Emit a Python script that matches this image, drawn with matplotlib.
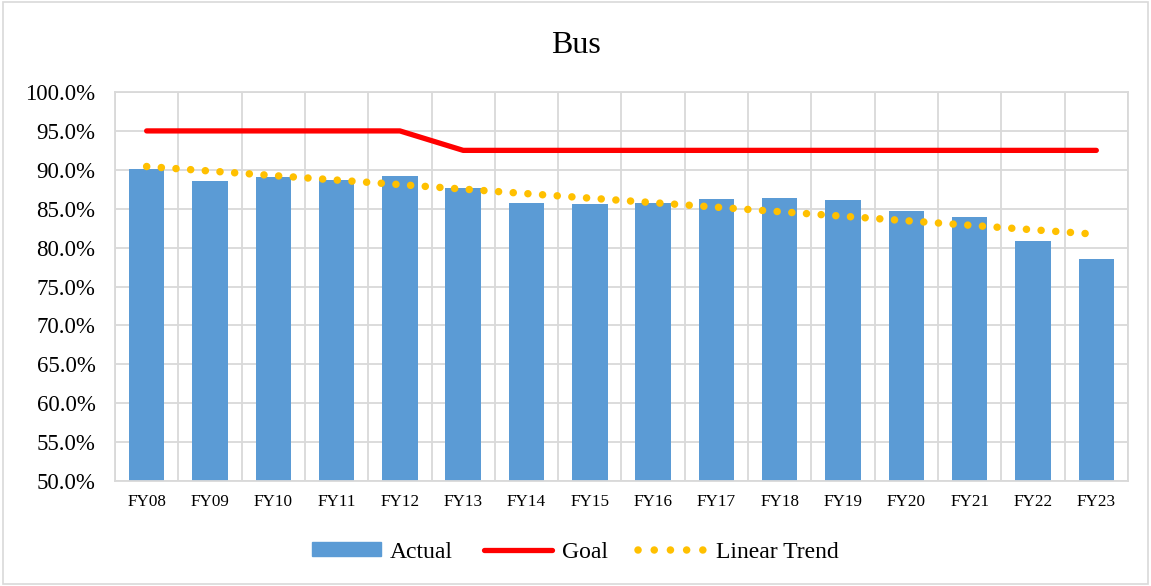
import matplotlib
matplotlib.use('Agg')
import matplotlib.pyplot as plt
import numpy as np
from matplotlib.patches import Rectangle
from matplotlib.lines import Line2D

plt.rcParams['font.family'] = ['Liberation Serif', 'DejaVu Serif']

years = ['FY08', 'FY09', 'FY10', 'FY11', 'FY12', 'FY13', 'FY14', 'FY15',
         'FY16', 'FY17', 'FY18', 'FY19', 'FY20', 'FY21', 'FY22', 'FY23']
actual = [90.1, 88.6, 89.1, 88.7, 89.2, 87.6, 85.8, 85.6,
          85.8, 86.3, 86.35, 86.1, 84.7, 83.9, 80.8, 78.5]
goal = [95.0, 95.0, 95.0, 95.0, 95.0, 92.5, 92.5, 92.5,
        92.5, 92.5, 92.5, 92.5, 92.5, 92.5, 92.5, 92.5]

x = np.arange(len(years))
# linear trend line fitted to the actual values (as the spreadsheet does)
coef = np.polyfit(x, actual, 1)
trend = np.polyval(coef, x)

fig = plt.figure(figsize=(11.51, 5.86), dpi=100)
ax = fig.add_axes([0.0999, 0.179, 0.8801, 0.664])

ax.bar(x, actual, width=0.56, color='#5B9BD5', zorder=2)
ax.plot(x, goal, color='#FF0000', lw=3.8, solid_capstyle='round', zorder=3)
ax.plot(x, trend, color='#FFC000', lw=5.4, linestyle=(0, (0.01, 1.95)),
        dash_capstyle='round', zorder=4)

ax.set_xlim(-0.5, len(years) - 0.5)
ax.set_ylim(50, 100)
ax.set_yticks(np.arange(50, 100.1, 5))
ax.set_yticklabels(['%.1f%%' % v for v in np.arange(50, 100.1, 5)], fontsize=16.5)
ax.set_xticks(x)
ax.set_xticklabels(years, fontsize=12.3)
ax.set_xticks(np.arange(-0.5, len(years)), minor=True)
ax.tick_params(axis='both', which='both', length=0)
ax.tick_params(axis='y', pad=14)
ax.tick_params(axis='x', pad=9)
ax.grid(True, axis='y', color='#D9D9D9', lw=1.3, zorder=0)
ax.grid(True, axis='x', which='minor', color='#D9D9D9', lw=1.3, zorder=0)
for s in ax.spines.values():
    s.set_color('#D9D9D9')
    s.set_linewidth(1.3)

fig.text(0.5, 0.923, 'Bus', ha='center', va='center', fontsize=23)

handles = [Rectangle((0, 0), 1, 1, color='#5B9BD5'),
           Line2D([0], [0], color='#FF0000', lw=3.8, solid_capstyle='round'),
           Line2D([0], [0], color='#FFC000', lw=5.4, linestyle=(0, (0.01, 2.15)),
                  dash_capstyle='round')]
fig.legend(handles, ['Actual', 'Goal', 'Linear Trend'], loc='center',
           bbox_to_anchor=(0.5, 0.058), ncol=3, frameon=False, fontsize=17,
           handlelength=2.9, handleheight=0.5, columnspacing=1.3, handletextpad=0.4)

fig.patches.append(Rectangle((0.003, 0.004), 0.994, 0.992, transform=fig.transFigure,
                             fill=False, edgecolor='#D9D9D9', lw=1.2))

fig.savefig('out.png', dpi=100)
